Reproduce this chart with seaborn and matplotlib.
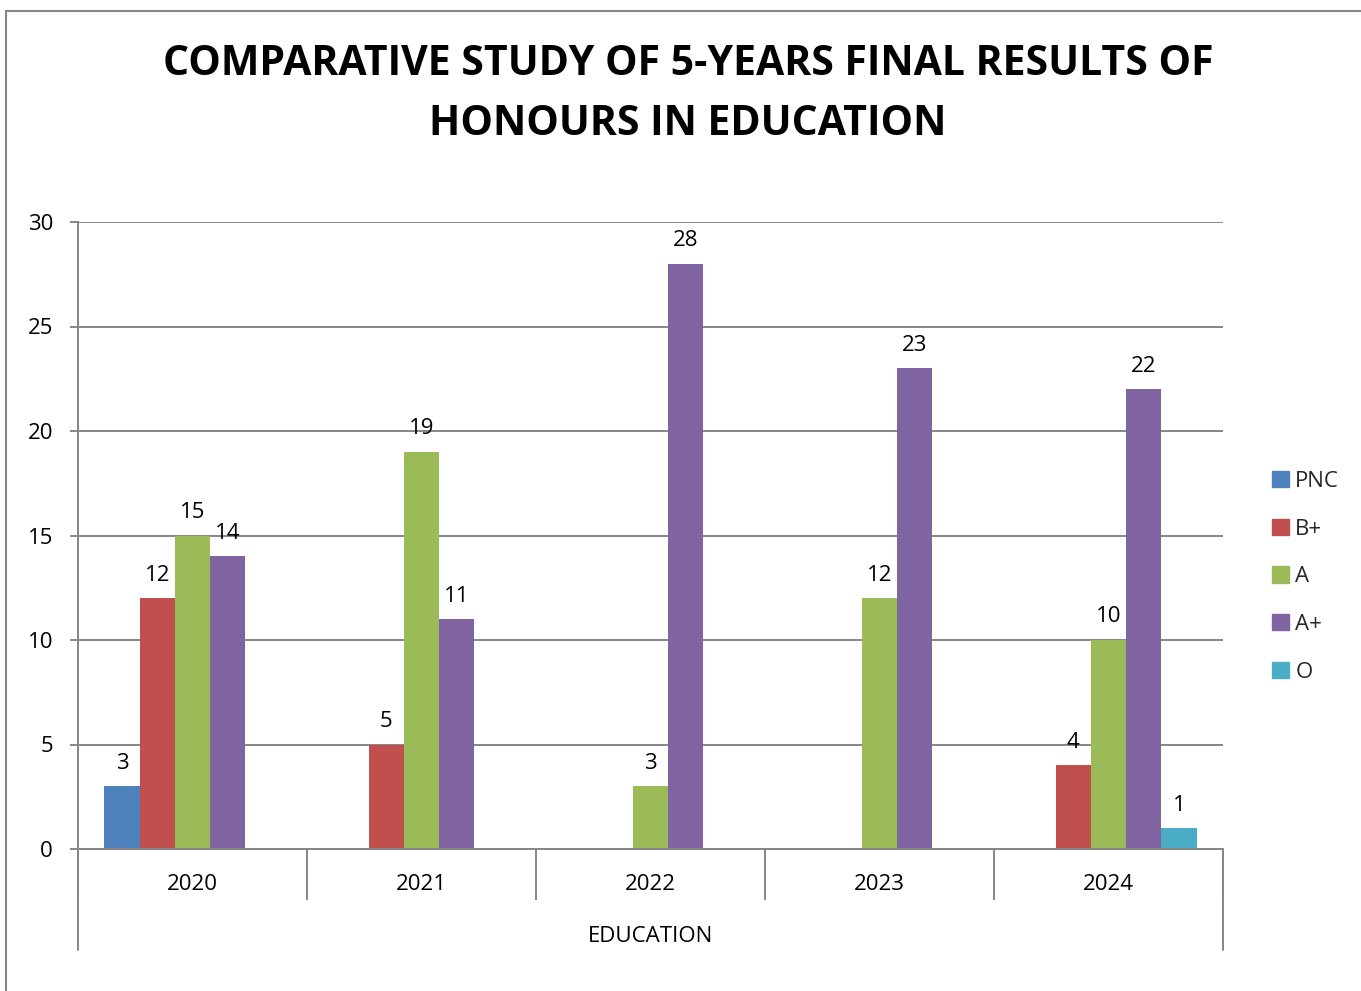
import matplotlib
matplotlib.use("Agg")
import matplotlib.pyplot as plt
import matplotlib.patches as mpatches
import pandas as pd
import seaborn as sns

years = ["2020", "2021", "2022", "2023", "2024"]
grades = ["PNC", "B+", "A", "A+", "O"]
pnc = [3, 0, 0, 0, 0]
b_plus = [12, 5, 0, 0, 4]
a = [15, 19, 3, 12, 10]
a_plus = [14, 11, 28, 23, 22]
o = [0, 0, 0, 0, 1]
colors = ["#4F81BD", "#C0504D", "#9BBB59", "#8064A2", "#4BACC6"]

rows = []
for g, vals in zip(grades, [pnc, b_plus, a, a_plus, o]):
    for y, v in zip(years, vals):
        rows.append({"year": y, "grade": g, "count": v})
df = pd.DataFrame(rows)

sns.set_style("white")
plt.rcParams["font.family"] = ["Open Sans", "DejaVu Sans"]
grid_col = "#868686"
fs = 16

fig = plt.figure(figsize=(13.61, 9.91), dpi=100)
ax = fig.add_axes([78 / 1361, 1 - 849 / 991, (1223 - 78) / 1361, (849 - 222) / 991])

sns.barplot(data=df, x="year", y="count", hue="grade", hue_order=grades,
            palette=colors, width=0.77, gap=0, saturation=1, ax=ax,
            edgecolor="none", linewidth=0)

for cont in ax.containers:
    labels = [f"{v:g}" if v else "" for v in cont.datavalues]
    ax.bar_label(cont, labels=labels, padding=9, fontsize=fs, color="black")

ax.set_ylim(0, 30)
ax.set_yticks(range(0, 31, 5))
ax.set_xlim(-0.5, 4.5)
ax.yaxis.grid(True, color=grid_col, linewidth=1.4)
ax.set_axisbelow(True)
for s in ["top", "right"]:
    ax.spines[s].set_visible(False)
for s in ["left", "bottom"]:
    ax.spines[s].set_color(grid_col)
    ax.spines[s].set_linewidth(1.4)

ax.tick_params(axis="y", left=True, length=6, width=1.4, color=grid_col, pad=12,
               labelsize=fs, labelcolor="black")
ax.tick_params(axis="x", which="major", bottom=True, length=0, pad=18,
               labelsize=fs, labelcolor="black")
ax.set_xticks([i - 0.5 for i in range(6)], minor=True)
ax.tick_params(axis="x", which="minor", bottom=True, length=37, width=1.4, color=grid_col)
for xpos in [0, 1]:
    ax.plot([xpos, xpos], [0, -101 / 627], transform=ax.transAxes,
            color=grid_col, lw=1.4, clip_on=False)

ax.set_xlabel("EDUCATION", fontsize=fs, labelpad=15, color="black")
ax.set_ylabel("")

handles = [mpatches.Patch(color=c, label=g) for c, g in zip(colors, grades)]
ax.legend(handles=handles, loc="upper left", bbox_to_anchor=(1252 / 1361, 1 - 451 / 991),
          bbox_transform=fig.transFigure, frameon=False, fontsize=fs,
          handlelength=0.75, handleheight=0.75, handletextpad=0.3, labelspacing=1.2)

fig.suptitle("COMPARATIVE STUDY OF 5-YEARS FINAL RESULTS OF\nHONOURS IN EDUCATION",
             x=688 / 1361, y=1 - 44 / 991, fontsize=29.5, fontweight="bold",
             linespacing=1.6, va="top", color="black")

fig.patches.append(mpatches.Rectangle((6 / 1361, -0.1), 2, 1.1 - 11 / 991,
                                      transform=fig.transFigure, fill=False,
                                      edgecolor=grid_col, lw=1.5))

fig.savefig("out.png", dpi=100)
